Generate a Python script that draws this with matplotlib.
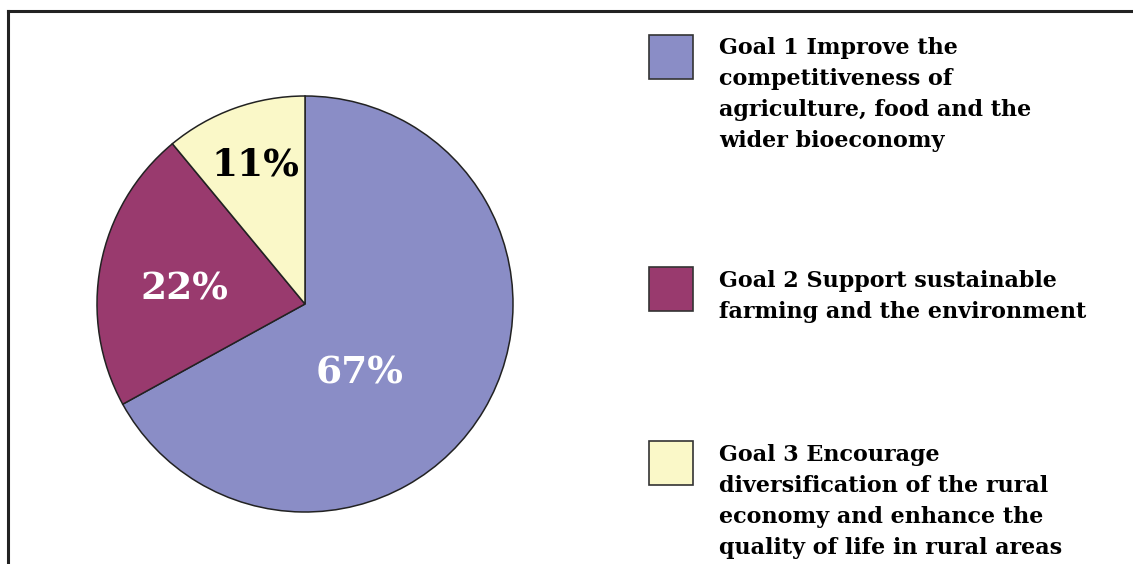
import matplotlib.pyplot as plt
from matplotlib.patches import Rectangle
from matplotlib.lines import Line2D

goals = [
    "Goal 1 Improve the\ncompetitiveness of\nagriculture, food and the\nwider bioeconomy",
    "Goal 2 Support sustainable\nfarming and the environment",
    "Goal 3 Encourage\ndiversification of the rural\neconomy and enhance the\nquality of life in rural areas",
]
shares = [67, 22, 11]
pct_labels = ["67%", "22%", "11%"]

colors = ["#8a8dc6", "#993a6e", "#faf8c8"]
pct_colors = ["white", "white", "black"]
pct_pos = [(0.26, -0.33), (-0.58, 0.07), (-0.24, 0.67)]

W, H = 1133, 564
fig = plt.figure(figsize=(W / 100, H / 100), dpi=100)

# pie centred at (305, 304) px from top-left, radius 208 px
r = 208
ax = fig.add_axes([(305 - r) / W, (H - 304 - r) / H, 2 * r / W, 2 * r / H])
wedges, _ = ax.pie(shares, colors=colors, startangle=90, counterclock=False,
                   wedgeprops=dict(edgecolor="#222222", linewidth=1.1))
ax.set_xlim(-1, 1)
ax.set_ylim(-1, 1)
for lab, c, (x, y) in zip(pct_labels, pct_colors, pct_pos):
    ax.text(x, y, lab, color=c, ha="center", va="center",
            fontsize=27, fontweight="heavy", family="DejaVu Serif")

# frame (left and top edges visible)
fig.add_artist(Line2D([8 / W, 8 / W], [0, 1 - 11 / H], color="#222222", lw=2.2))
fig.add_artist(Line2D([8 / W, 1], [1 - 11 / H, 1 - 11 / H], color="#222222", lw=2.2))

# legend
box_tops = [35, 267, 441]
text_tops = [37, 270, 444]
for g, c, bt, tt in zip(goals, colors, box_tops, text_tops):
    fig.add_artist(Rectangle((649 / W, 1 - (bt + 44) / H), 44 / W, 44 / H,
                             facecolor=c, edgecolor="#333333", lw=1.2,
                             transform=fig.transFigure))
    fig.text(719 / W, 1 - tt / H, g, ha="left", va="top", fontsize=16,
             fontweight="heavy", family="DejaVu Serif", linespacing=1.52)

fig.savefig("out.png", dpi=100)
